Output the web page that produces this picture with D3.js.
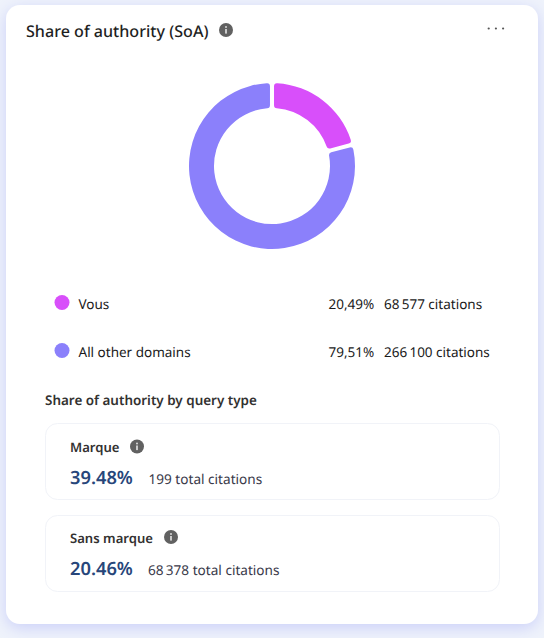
<!DOCTYPE html>
<html><head><meta charset="utf-8">
<script src="https://cdn.jsdelivr.net/npm/d3@7"></script>
<style>
html,body{margin:0;padding:0;width:544px;height:638px;overflow:hidden;background:#eff3fb}
svg{display:block}
text{font-family:"Noto Sans","Open Sans",sans-serif;text-rendering:geometricPrecision}
</style></head><body><div id="c"></div>
<script>
const categories=["Vous","All other domains"];
const citations=[68577,266100];
const shareLabels=["20,49%","79,51%"];
const citationLabels=["68\u202f577 citations","266\u202f100 citations"];
const colors=["#d84ffa","#8b80fb"];
const queryTypes=["Marque","Sans marque"];
const queryShares=["39.48%","20.46%"];
const queryCitations=["199 total citations","68\u202f378 total citations"];

const svg=d3.select("#c").append("svg").attr("width",544).attr("height",638);
const defs=svg.append("defs");
const f=defs.append("filter").attr("id","sh").attr("x","-10%").attr("y","-10%").attr("width","120%").attr("height","120%");
f.append("feDropShadow").attr("dx",0).attr("dy",4).attr("stdDeviation",8).attr("flood-color","#c4c9f8").attr("flood-opacity",0.85);
svg.append("rect").attr("width",544).attr("height",638).attr("fill","#eff3fb");
svg.append("rect").attr("x",6).attr("y",5).attr("width",532).attr("height",619).attr("rx",14).attr("fill","#fff").attr("filter","url(#sh)");

function info(x,y){
  const g=svg.append("g").attr("transform",`translate(${x},${y})`);
  g.append("circle").attr("r",7).attr("fill","#616161");
  g.append("rect").attr("x",-0.9).attr("y",-1).attr("width",1.8).attr("height",4.6).attr("fill","#d8d8d8");
  g.append("circle").attr("cy",-3.1).attr("r",1).attr("fill","#d8d8d8");
}
function label(x,y,t,size,weight,fill){
  return svg.append("text").attr("x",x).attr("y",y).attr("font-size",size).attr("font-weight",weight).attr("fill",fill).text(t);
}

label(26,37,"Share of authority (SoA)",16.1,500,"#1f1f1f");
info(226,30);
svg.append("g").selectAll("circle").data([0,1,2]).join("circle")
  .attr("cx",i=>488.7+7.2*i).attr("cy",28.5).attr("r",1.1).attr("fill","#555");

const pie=d3.pie().sort(null).padAngle(0.04)(citations);
const arc=d3.arc().innerRadius(58).outerRadius(83).cornerRadius(3);
svg.append("g").attr("transform","translate(272,166)").selectAll("path").data(pie).join("path")
  .attr("d",arc).attr("fill",(d,i)=>colors[i]);

const rowY=d3.scalePoint().domain(categories).range([303,351]);
categories.forEach((c,i)=>{
  const y=rowY(c);
  svg.append("circle").attr("cx",62).attr("cy",y-0.5).attr("r",7.5).attr("fill",colors[i]);
  label(78.5,y+6,c,13.5,400,"#1a1a1a");
  label(328.5,y+6,shareLabels[i],13.5,400,"#1a1a1a");
  label(384,y+6,citationLabels[i],13.5,400,"#1a1a1a");
});

label(45,405,"Share of authority by query type",13.45,600,"#323130");

const cardY=d3.scalePoint().domain(queryTypes).range([423.5,515.5]);
queryTypes.forEach((q,i)=>{
  const y=cardY(q);
  svg.append("rect").attr("x",45.5).attr("y",y).attr("width",454).attr("height",76).attr("rx",12).attr("fill","#fff").attr("stroke","#f1f3f8");
  label(70,y+28.5-i,q,13.1,600,"#323130");
  info(i==0?137:171,y+(i==0?23:21.5));
  label(70,y+60.5-i*1.5,queryShares[i],18.3,600,"#27467a");
  label(i==0?148.5:148,y+60-i,queryCitations[i],13.6,400,"#3a3a4a");
});
</script></body></html>
